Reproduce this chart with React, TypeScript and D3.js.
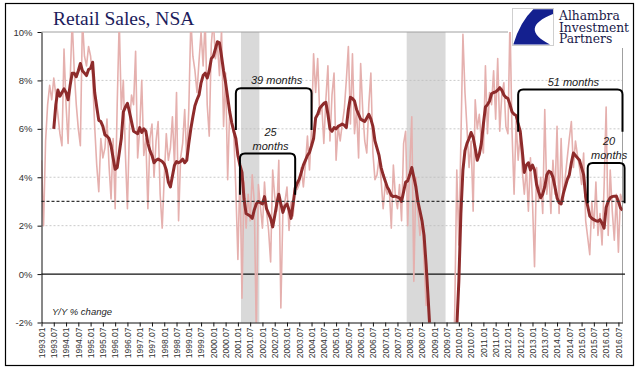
import { useEffect, useRef } from "react";
import * as d3 from "d3";

// Monthly Y/Y % change, starting 1993.01
const MONTHLY_YY = [
  4.7, 2.0, 5.5, 7.0, 7.8, 7.2, 8.1, 7.4, 6.6, 5.8, 5.3, 9.3, // 1993
  7.0, 5.4, 8.0, 10.5, 8.4, 7.0, 6.0, 5.3, 10.5, 9.0, 8.6, 9.4, // 1994
  9.0, 8.1, 6.1, 4.5, 3.4, 5.6, 4.8, 5.2, 6.4, 4.5, 3.1, 5.6, // 1995
  2.7, 7.0, 10.5, 6.8, 8.0, 5.0, 2.7, 6.1, 7.4, 7.0, 9.2, 4.8, // 1996
  6.0, 8.0, 4.9, 5.6, 2.7, 5.6, 6.2, 4.0, 5.5, 6.3, 3.3, 1.9, // 1997
  4.0, 5.8, 4.7, 5.2, 6.5, 4.5, 7.5, 2.2, 4.8, 5.4, 6.8, 4.7, // 1998
  6.8, 10.5, 9.0, 8.4, 7.5, 8.8, 10.0, 8.6, 10.5, 7.0, 5.7, 9.5, // 1999
  10.5, 8.9, 9.5, 8.2, 10.1, 6.1, 8.3, 3.9, 6.8, 6.2, 5.8, 3.5, // 2000
  0.6, 4.3, -1.0, 3.8, 1.9, 3.3, 2.2, 4.1, 3.0, -2.5, 3.7, 2.8, // 2001
  1.9, 3.8, 2.6, 1.8, 0.5, 4.3, 3.2, 2.6, 4.7, -1.4, 2.6, 3.0, // 2002
  3.6, 1.8, 3.0, 2.4, 3.9, 3.5, 3.7, 4.4, 3.6, 4.5, 5.7, 4.3, // 2003
  6.0, 9.1, 7.5, 8.9, 6.6, 7.0, 5.4, 7.2, 8.6, 5.5, 7.4, 8.3, // 2004
  4.7, 6.1, 5.5, 6.2, 6.8, 8.0, 9.4, 6.2, 9.1, 5.8, 6.8, 4.8, // 2005
  8.7, 6.8, 5.5, 5.0, 7.0, 8.3, 5.0, 3.9, 4.1, 4.8, 3.9, 2.7, // 2006
  3.7, 3.3, 3.5, 1.9, 4.5, 3.2, 2.7, 3.7, 2.2, 5.4, 5.9, 2.0, // 2007
  4.4, 6.5, -0.3, 4.0, 2.6, 1.6, 2.3, 0.5, -1.3, -0.7, -4.5, -8.0, // 2008
  -10, -11, -9, -11, -10, -9, -8, -7, -6, -5, -1.5, 4.3, // 2009
  1.2, 5.5, 9.9, 7.5, 6.0, 4.4, 5.5, 2.6, 7.2, 6.0, 6.6, 5.5, // 2010
  5.0, 8.6, 5.8, 7.5, 7.0, 8.4, 6.4, 8.9, 5.9, 7.4, 7.9, 6.1, // 2011
  5.8, 10.5, 5.9, 3.3, 6.3, 4.7, 5.8, 4.3, 3.3, 4.4, 2.6, 4.8, // 2012
  3.0, 0.3, 4.4, 3.0, 4.0, 2.5, 6.8, 3.3, 4.3, 2.5, 4.7, 3.3, // 2013
  6.1, 2.5, 5.6, 3.0, 4.0, 4.8, 5.6, 6.3, 4.4, 5.5, 4.9, 4.4, // 2014
  3.7, 5.0, 2.2, 1.5, 0.8, 3.0, 1.9, 3.8, 1.6, 2.5, 1.2, 3.6, // 2015
  6.9, 1.6, 4.3, 2.6, 1.4, 3.3, 0.9, 3.3, 3.0, // 2016
];

// Smoothed series, starting 1993.07
const SMOOTH_START = "1993.07";
const SMOOTHED = [
  6.0, 7.0, 7.6, 7.35, 7.5, 7.65, // 1993
  7.5, 7.2, 7.8, 8.3, 8.3, 8.15, 8.4, 8.7, 8.4, 8.3, 8.2, 8.45, // 1994
  8.5, 8.75, 7.5, 6.9, 6.35, 6.3, 6.1, 5.75, 5.7, 5.6, 5.3, 4.8, // 1995
  4.33, 4.4, 5.0, 5.6, 6.7, 6.9, 7.05, 6.7, 6.3, 5.9, 5.85, 5.8, // 1996
  6.05, 5.85, 6.0, 5.9, 5.4, 5.1, 4.9, 4.6, 4.7, 4.75, 4.7, 4.65, // 1997
  4.55, 4.3, 3.8, 3.6, 4.05, 4.5, 4.65, 4.6, 4.65, 4.75, 4.6, 4.7, // 1998
  5.4, 6.0, 6.5, 6.95, 7.2, 7.4, 7.9, 8.2, 8.3, 8.1, 8.4, 8.9, // 1999
  9.0, 9.3, 9.6, 9.55, 9.0, 8.4, 7.9, 7.3, 6.7, 6.25, 5.9, 5.6, // 2000
  4.9, 4.5, 4.2, 3.1, 2.5, 2.45, 2.4, 2.3, 2.65, 2.9, 3.0, 2.95, // 2001
  2.9, 3.2, 2.7, 2.5, 2.3, 1.95, 2.4, 2.9, 3.3, 2.9, 2.55, 2.8, // 2002
  2.9, 2.65, 2.3, 2.9, 3.55, 3.75, 3.92, 4.2, 4.5, 4.7, 4.9, 5.03, // 2003
  5.3, 5.6, 6.45, 6.6, 6.85, 6.95, 7.05, 7.1, 6.6, 6.0, 5.9, 6.05, // 2004
  6.0, 6.1, 6.15, 6.2, 6.15, 6.05, 6.8, 7.3, 7.25, 7.15, 6.8, 6.6, // 2005
  6.4, 6.35, 6.3, 6.45, 6.6, 6.4, 6.1, 5.5, 5.2, 4.9, 4.4, 4.1, // 2006
  3.85, 3.6, 3.45, 3.25, 3.2, 3.22, 3.18, 3.15, 3.0, 3.4, 3.8, 3.85, // 2007
  4.1, 4.4, 4.0, 3.6, 3.0, 2.6, 2.2, 1.6, 0.4, -1.0, -2.5, -3.8, // 2008
  -5.5, -7, -8, -9, -9.5, -9.5, -9, -8, -7, -5.5, -4, -2.2, // 2009
  -0.3, 2.5, 4.3, 5.1, 5.4, 5.6, 5.85, 5.65, 5.2, 4.7, 4.95, 5.4, // 2010
  6.2, 6.9, 7.0, 7.15, 7.45, 7.5, 7.53, 7.6, 7.7, 7.6, 7.4, 7.3, // 2011
  7.25, 7.0, 6.7, 6.6, 6.55, 6.2, 5.9, 5.1, 4.2, 4.5, 4.6, 4.3, // 2012
  4.5, 4.3, 3.7, 3.4, 3.15, 3.3, 3.6, 4.1, 4.25, 4.2, 4.0, 3.6, // 2013
  3.15, 2.95, 2.9, 3.3, 3.6, 3.9, 4.1, 4.6, 5.0, 4.9, 4.8, 4.7, // 2014
  4.4, 4.1, 3.2, 2.8, 2.4, 2.3, 2.25, 2.2, 2.18, 2.25, 2.1, 1.9, // 2015
  2.75, 3.0, 3.15, 3.2, 3.22, 3.22, 3.0, 2.74, 2.63, // 2016
];

const X_TICKS = [
  "1993.01", "1993.07", "1994.01", "1994.07", "1995.01", "1995.07", "1996.01", "1996.07",
  "1997.01", "1997.07", "1998.01", "1998.07", "1999.01", "1999.07", "2000.01", "2000.07",
  "2001.01", "2001.07", "2002.01", "2002.07", "2003.01", "2003.07", "2004.01", "2004.07",
  "2005.01", "2005.07", "2006.01", "2006.07", "2007.01", "2007.07", "2008.01", "2008.07",
  "2009.01", "2009.07", "2010.01", "2010.07", "2011.01", "2011.07", "2012.01", "2012.07",
  "2013.01", "2013.07", "2014.01", "2014.07", "2015.01", "2015.07", "2016.01", "2016.07",
];
const Y_TICKS = [-2, 0, 2, 4, 6, 8, 10];
const GRID = [2, 4, 6, 8];
const REFERENCE_LEVEL = 3;

const RECESSIONS = [
  ["2001.03", "2001.11"],
  ["2007.12", "2009.06"],
];

// span annotations: start, end, top level, leg end level, text lines
const SPANS = [
  { from: "2000.12", to: "2004.01", top: 7.68, bottom: 5.95, lines: ["39 months"] },
  { from: "2001.02", to: "2003.05", top: 4.98, bottom: 3.28, lines: ["25", "months"] },
  { from: "2012.06", to: "2016.09", top: 7.62, bottom: 5.88, lines: ["51 months"] },
  { from: "2015.04", to: "2016.10", top: 4.59, bottom: 2.93, lines: ["20", "months"] },
];

const LOGO_LINES = ["Alhambra", "Investment", "Partners"];

const monthIndex = (s: string) => {
  const [yy, mm] = s.split(".").map(Number);
  return (yy - 1993) * 12 + (mm - 1);
};

export default function App() {
  const svgRef = useRef<SVGSVGElement>(null);

  useEffect(() => {
    document.body.style.margin = "0";
    const svg = svgRef.current;
    if (!svg) return;

    const W = 640;
    const H = 374;
    const L = 41.5;
    const R = 622.5;
    const T = 32;
    const B = 322.5;

    const s = d3.select(svg);
    s.selectAll("*").remove();
    s.attr("width", W).attr("height", H);

    const x = d3.scaleLinear().domain([0, 284]).range([L, R]);
    const y = d3.scaleLinear().domain([-2, 10]).range([B, T]);

    s.append("rect")
      .attr("width", W)
      .attr("height", H)
      .attr("fill", "#fff");

    s.append("defs")
      .append("clipPath")
      .attr("id", "plot-clip")
      .append("rect")
      .attr("x", L)
      .attr("y", T)
      .attr("width", R - L)
      .attr("height", B - T);

    // recession shading
    s.append("g")
      .selectAll("rect")
      .data(RECESSIONS)
      .join("rect")
      .attr("x", (d) => x(monthIndex(d[0]) - 0.5))
      .attr("width", (d) => x(monthIndex(d[1]) + 0.5) - x(monthIndex(d[0]) - 0.5))
      .attr("y", T)
      .attr("height", B - T)
      .attr("fill", "#d9d9d9");

    // grid
    s.append("g")
      .selectAll("line")
      .data(GRID)
      .join("line")
      .attr("x1", L)
      .attr("x2", R)
      .attr("y1", (d) => y(d))
      .attr("y2", (d) => y(d))
      .attr("stroke", "#bdbdbd")
      .attr("stroke-width", 0.8)
      .attr("stroke-dasharray", "2 2");

    // plot frame (top / right)
    s.append("line")
      .attr("x1", L).attr("x2", 508)
      .attr("y1", T).attr("y2", T)
      .attr("stroke", "#a0a0a0");
    s.append("line")
      .attr("x1", R).attr("x2", R)
      .attr("y1", 48).attr("y2", B)
      .attr("stroke", "#a0a0a0");

    // zero line
    s.append("line")
      .attr("x1", L).attr("x2", 625)
      .attr("y1", y(0)).attr("y2", y(0))
      .attr("stroke", "#111")
      .attr("stroke-width", 1.3);

    const lines = s.append("g").attr("clip-path", "url(#plot-clip)");

    const monthlyLine = d3
      .line<number>()
      .x((_, i) => x(i))
      .y((d) => y(d));
    lines.append("path")
      .attr("d", monthlyLine(MONTHLY_YY))
      .attr("fill", "none")
      .attr("stroke", "#e5b0ae")
      .attr("stroke-width", 1.6)
      .attr("stroke-linejoin", "round");

    const off = monthIndex(SMOOTH_START);
    const smoothLine = d3
      .line<number>()
      .x((_, i) => x(i + off))
      .y((d) => y(d));
    lines.append("path")
      .attr("d", smoothLine(SMOOTHED))
      .attr("fill", "none")
      .attr("stroke", "#8e2b2b")
      .attr("stroke-width", 3)
      .attr("stroke-linejoin", "round");

    // 3% reference
    s.append("line")
      .attr("x1", L).attr("x2", 626)
      .attr("y1", y(REFERENCE_LEVEL)).attr("y2", y(REFERENCE_LEVEL))
      .attr("stroke", "#333")
      .attr("stroke-width", 1.2)
      .attr("stroke-dasharray", "3 2");

    // y axis
    s.append("g")
      .attr("transform", `translate(${L},0)`)
      .call(
        d3.axisLeft(y)
          .tickValues(Y_TICKS)
          .tickSize(4)
          .tickSizeOuter(0)
          .tickPadding(5)
          .tickFormat((v) => `${v}%`),
      )
      .call((ax) => {
        ax.select(".domain").attr("stroke", "#111");
        ax.selectAll(".tick line").attr("stroke", "#111");
        ax.selectAll("text")
          .attr("fill", "#333")
          .attr("font-size", "9.5px")
          .style("font-family", "'Liberation Sans', Arial, sans-serif");
      });

    // x axis
    s.append("g")
      .attr("transform", `translate(0,${B})`)
      .call(
        d3.axisBottom(x)
          .tickValues(X_TICKS.map(monthIndex))
          .tickSize(4)
          .tickSizeOuter(0)
          .tickFormat((_, i) => X_TICKS[i]),
      )
      .call((ax) => {
        ax.select(".domain").attr("stroke", "#111");
        ax.selectAll(".tick line").attr("stroke", "#111");
        ax.selectAll("text")
          .attr("transform", "rotate(-90)")
          .attr("text-anchor", "end")
          .attr("x", -5)
          .attr("y", 0)
          .attr("dy", "0.33em")
          .attr("fill", "#333")
          .attr("font-size", "8.5px")
          .style("font-family", "'Liberation Sans', Arial, sans-serif");
      });

    // span brackets
    const spans = s.append("g");
    SPANS.forEach((sp) => {
      const x1 = x(monthIndex(sp.from));
      const x2 = x(monthIndex(sp.to));
      const yt = y(sp.top);
      const yb = y(sp.bottom);
      const r = 5;
      const p = d3.path();
      p.moveTo(x1, yb);
      p.lineTo(x1, yt + r);
      p.quadraticCurveTo(x1, yt, x1 + r, yt);
      p.lineTo(x2 - r, yt);
      p.quadraticCurveTo(x2, yt, x2, yt + r);
      p.lineTo(x2, yb);
      spans.append("path")
        .attr("d", p.toString())
        .attr("fill", "none")
        .attr("stroke", "#000")
        .attr("stroke-width", 2);
      const cx = (x1 + x2) / 2 + 3;
      sp.lines.forEach((t, i) => {
        spans.append("text")
          .attr("x", cx)
          .attr("y", yt - 4 - (sp.lines.length - 1 - i) * 14)
          .attr("text-anchor", "middle")
          .attr("font-size", "11px")
          .attr("font-style", "italic")
          .attr("fill", "#1a1a1a")
          .style("font-family", "'Liberation Sans', Arial, sans-serif")
          .text(t);
      });
    });

    // series note
    s.append("text")
      .attr("x", 52)
      .attr("y", 315)
      .attr("font-size", "9.5px")
      .attr("font-style", "italic")
      .attr("fill", "#262626")
      .style("font-family", "'Liberation Sans', Arial, sans-serif")
      .text("Y/Y % change");

    // title
    s.append("text")
      .attr("x", 53)
      .attr("y", 25)
      .attr("font-size", "19.5px")
      .attr("fill", "#1c1c5c")
      .style("font-family", "'Liberation Serif', 'Times New Roman', serif")
      .text("Retail Sales, NSA");

    // logo
    const logo = s.append("g");
    logo.append("rect")
      .attr("x", 512.5)
      .attr("y", 8.5)
      .attr("width", 41)
      .attr("height", 37)
      .attr("fill", "#fff")
      .attr("stroke", "#cfcfcf");
    logo.append("path")
      .attr("d", "M533.3,9.3 L553,9.3 L553,14 Q518,28 550,44.5 L513.3,44.5 Q520,22 533.3,9.3 Z")
      .attr("fill", "#14208f");
    LOGO_LINES.forEach((t, i) => {
      logo.append("text")
        .attr("x", 559)
        .attr("y", 20 + i * 11.7)
        .attr("font-size", "12.3px")
        .attr("fill", "#1a1a4a")
        .style("font-family", "'DejaVu Serif', 'Liberation Serif', serif")
        .text(t);
    });

    // outer frame
    s.append("rect")
      .attr("x", 5.5)
      .attr("y", 3.5)
      .attr("width", 628)
      .attr("height", 362)
      .attr("fill", "none")
      .attr("stroke", "#000")
      .attr("stroke-width", 1.2);
  }, []);

  return <svg ref={svgRef} style={{ display: "block" }} />;
}
